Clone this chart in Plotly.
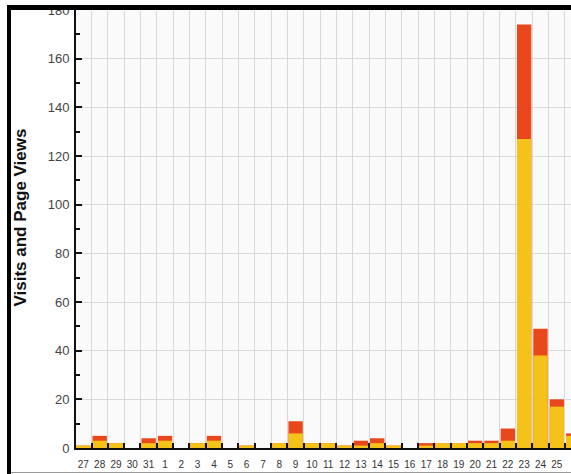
import plotly.graph_objects as go

# ---- data ----
days = ["27", "28", "29", "30", "31", "1", "2", "3", "4", "5", "6", "7", "8", "9", "10",
        "11", "12", "13", "14", "15", "16", "17", "18", "19", "20", "21", "22", "23",
        "24", "25", "26"]
visits = [1, 3, 2, 0, 2, 3, 0, 2, 3, 0, 1, 0, 2, 6, 2,
          2, 1, 1, 2, 1, 0, 1, 2, 2, 2, 2, 3, 127, 38, 17, 5]
page_views = [1, 5, 2, 0, 4, 5, 0, 2, 5, 0, 1, 0, 2, 11, 2,
              2, 1, 3, 4, 1, 0, 2, 2, 2, 3, 3, 8, 174, 49, 20, 6]
y_ticks = [0, 20, 40, 60, 80, 100, 120, 140, 160, 180]

W, H = 571, 474
ML, MR, MT, MB = 76, 0, 10, 26
PW, PH = W - ML - MR, H - MT - MB


def px(x):
    return (x - ML) / PW


def py(y):
    return (H - MB - y) / PH


fig = go.Figure()
fig.add_trace(go.Bar(x=days, y=page_views, name="Page Views", width=0.88,
                     marker=dict(color="#E8481C", line=dict(width=0))))
fig.add_trace(go.Bar(x=days, y=visits, name="Visits", width=0.88,
                     marker=dict(color="#F5C21A", line=dict(width=0))))

tick_font = dict(family="Liberation Sans Narrow, Arial Narrow, Liberation Sans, Arial",
                 size=10, color="#333333")

fig.update_layout(
    width=W, height=H,
    margin=dict(l=ML, r=MR, t=MT, b=MB, pad=0, autoexpand=False),
    paper_bgcolor="white",
    plot_bgcolor="#fafafa",
    barmode="overlay",
    showlegend=False,
    xaxis=dict(
        type="category",
        automargin=False,
        range=[-0.45, 29.87],
        tickson="boundaries",
        tickangle=0,
        ticks="inside", ticklen=5, tickwidth=2, tickcolor="#111111",
        showgrid=True, gridcolor="#d9d9d9", gridwidth=1,
        showline=True, linecolor="#111111", linewidth=2,
        tickfont=tick_font,
        ticklabelstandoff=6,
        zeroline=False,
    ),
    yaxis=dict(
        automargin=False,
        range=[0, 180],
        tickvals=y_ticks,
        ticks="inside", ticklen=6, tickwidth=1.5, tickcolor="#111111",
        minor=dict(dtick=10, ticks="inside", ticklen=4, tickcolor="#111111", showgrid=False),
        showgrid=True, gridcolor="#d9d9d9", gridwidth=1,
        showline=True, linecolor="#111111", linewidth=2,
        tickfont=dict(family="Liberation Sans, Arial", size=13, color="#444444"),
        ticklabelstandoff=2,
        zeroline=False,
    ),
    annotations=[dict(
        text="<b>Visits and Page Views</b>", textangle=-90,
        xref="paper", yref="paper", x=px(19.5), y=py(218),
        xanchor="center", yanchor="middle", showarrow=False,
        font=dict(family="Liberation Sans, Arial", size=17, color="#111111"),
    )],
    shapes=[
        dict(type="rect", xref="paper", yref="paper", layer="above",
             x0=px(7), x1=px(11), y0=py(H + 2), y1=py(5),
             fillcolor="black", line=dict(width=0)),
        dict(type="rect", xref="paper", yref="paper", layer="above",
             x0=px(7), x1=px(W + 2), y0=py(10), y1=py(5),
             fillcolor="black", line=dict(width=0)),
        dict(type="line", xref="paper", yref="paper", layer="above",
             x0=px(11), x1=px(W + 2), y0=py(472.5), y1=py(472.5),
             line=dict(color="#9a9a9a", width=1)),
    ],
)

fig.write_html("out.html", config={"displayModeBar": False},
               post_script="document.body.style.margin='0';")
